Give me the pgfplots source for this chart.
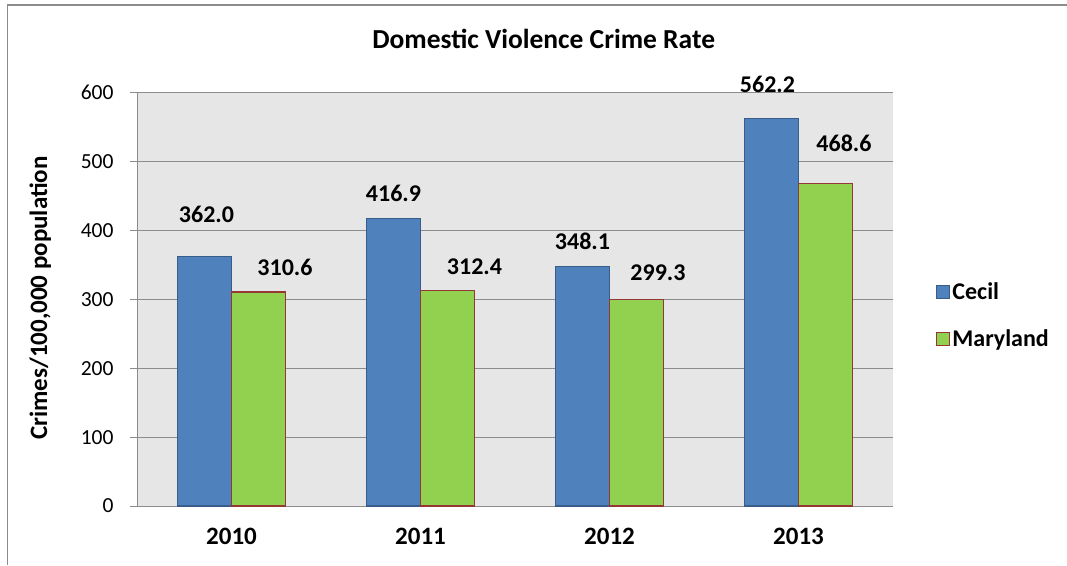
\documentclass[border=0pt]{standalone}
\usepackage{pgfplots}
\usepackage{pgfplotstable}
\pgfplotsset{compat=1.18}
\usepackage{fontspec}
\setmainfont{Carlito}
\definecolor{cecil}{HTML}{4F81BD}
\definecolor{cecildraw}{HTML}{385D8A}
\definecolor{mdfill}{HTML}{92D050}
\definecolor{mddraw}{HTML}{953735}
\definecolor{plotbg}{HTML}{E6E6E6}
\definecolor{gridc}{HTML}{8C8C8C}
\definecolor{framec}{HTML}{8C8C8C}

\pgfplotstableread{
x y dx dy
0 362.0 2 42
1 416.9 0 25
2 348.1 0 25
3 562.2 -4 34
}\cecil
\pgfplotstableread{
x y dx dy
0 310.6 26.5 25
1 312.4 27 24
2 299.3 21.5 27
3 468.6 18.5 40
}\maryland

\begin{document}
\begin{tikzpicture}[x=1pt,y=1pt]
\useasboundingbox (0,0) rectangle (1067,565);
\draw[framec, line width=1.2pt] (7.5,0) -- (7.5,560) -- (1067,560);
\begin{axis}[
  at={(137pt,59pt)}, anchor=south west,
  scale only axis, width=756pt, height=413.3pt,
  ybar=0pt, bar width=54pt,
  xmin=-0.5, xmax=3.5, ymin=0, ymax=600,
  xtick=data, xticklabels={2010,2011,2012,2013},
  ytick={0,100,...,600},
  axis x line*=bottom, axis y line*=left,
  axis line style={gridc, line width=1pt, -},
  x tick style={draw=none},
  y tick style={gridc, line width=1pt},
  tick align=outside, major tick length=7pt,
  ymajorgrids, grid style={gridc, line width=1pt},
  axis background/.style={fill=plotbg},
  /pgf/number format/assume math mode=true,
  yticklabel style={font=\fontsize{21.5}{25}\selectfont, xshift=-13pt},
  xticklabel style={font=\fontsize{25}{29}\selectfont\bfseries, yshift=-12pt},
  title={Domestic Violence Crime Rate},
  title style={font=\fontsize{27.5}{32}\selectfont\bfseries, at={(axis description cs:0.538,1.115)}, anchor=center},
  ylabel={Crimes/100,000 population},
  ylabel style={font=\fontsize{25}{29}\selectfont\bfseries, at={(axis description cs:-0.128,0.503)}, anchor=center, rotate=0},
  legend style={draw=none, fill=none, at={(axis description cs:1.053,0.461)}, anchor=west,
    font=\fontsize{24}{28}\selectfont\bfseries, row sep=24pt, legend cell align=left},
  legend image code/.code={\draw[#1, line width=1.2pt] (0pt,-6.5pt) rectangle (13pt,6.5pt);},
  nodes near coords={\pgfmathprintnumber[fixed,zerofill,precision=1]{\pgfplotspointmeta}},
  point meta=y,
  every node near coord/.append style={font=\fontsize{24}{28}\selectfont\bfseries, anchor=center, xshift=\dx pt, yshift=\dy pt},
  visualization depends on={\thisrow{dx} \as \dx},
  visualization depends on={\thisrow{dy} \as \dy},
]
\addplot[fill=cecil, draw=cecildraw, line width=1.2pt] table[x=x,y=y] {\cecil};
\addlegendentry{Cecil}
\addplot[fill=mdfill, draw=mddraw, line width=1.2pt] table[x=x,y=y] {\maryland};
\addlegendentry{Maryland}
\end{axis}
\end{tikzpicture}
\end{document}
